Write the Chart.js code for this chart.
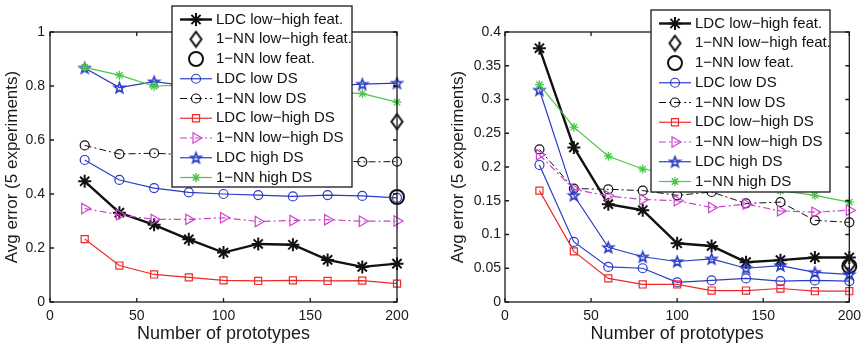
<!DOCTYPE html>
<html><head><meta charset="utf-8">
<script src="https://cdn.jsdelivr.net/npm/chart.js@4/dist/chart.umd.min.js"></script>
<style>
html,body{margin:0;padding:0;background:#fff;}
#wrap{position:relative;width:867px;height:346px;overflow:hidden;background:#fff;}
canvas{position:absolute;top:0;}
#c1{left:0}
#c2{left:430px}
</style></head><body>
<div id="wrap"><canvas id="c1" width="430" height="346"></canvas><canvas id="c2" width="437" height="346"></canvas></div>
<script>
// ---------- DATA ----------
const prototypes = [20, 40, 60, 80, 100, 120, 140, 160, 180, 200];
const seriesNames = ['LDC low−high feat.', '1−NN low−high feat.', '1−NN low feat.', 'LDC low DS', '1−NN low DS', 'LDC low−high DS', '1−NN low−high DS', 'LDC high DS', '1−NN high DS'];
const xTicks = [0, 50, 100, 150, 200];
const leftYTicks = [0, 0.2, 0.4, 0.6, 0.8, 1];
const rightYTicks = [0, 0.05, 0.1, 0.15, 0.2, 0.25, 0.3, 0.35, 0.4];

// left panel
const leftLdcLowHighFeat = [0.447, 0.331, 0.286, 0.232, 0.183, 0.215, 0.212, 0.156, 0.130, 0.142];
const leftNnLowHighFeat  = [null, null, null, null, null, null, null, null, null, 0.668];
const leftNnLowFeat      = [null, null, null, null, null, null, null, null, null, 0.389];
const leftLdcLowDS       = [0.526, 0.452, 0.422, 0.406, 0.400, 0.396, 0.391, 0.396, 0.393, 0.386];
const leftNnLowDS        = [0.580, 0.548, 0.551, 0.545, 0.540, 0.535, 0.530, 0.525, 0.519, 0.520];
const leftLdcLowHighDS   = [0.233, 0.135, 0.102, 0.091, 0.080, 0.078, 0.080, 0.078, 0.079, 0.068];
const leftNnLowHighDS    = [0.346, 0.323, 0.306, 0.306, 0.312, 0.298, 0.302, 0.305, 0.299, 0.300];
const leftLdcHighDS      = [0.867, 0.794, 0.816, 0.800, 0.800, 0.810, 0.800, 0.800, 0.807, 0.811];
const leftNnHighDS       = [0.869, 0.840, 0.799, 0.805, 0.800, 0.790, 0.790, 0.780, 0.772, 0.740];

// right panel
const rightLdcLowHighFeat = [0.376, 0.229, 0.145, 0.136, 0.087, 0.083, 0.059, 0.062, 0.066, 0.066];
const rightNnLowHighFeat  = [null, null, null, null, null, null, null, null, null, 0.055];
const rightNnLowFeat      = [null, null, null, null, null, null, null, null, null, 0.053];
const rightLdcLowDS       = [0.203, 0.089, 0.052, 0.050, 0.029, 0.032, 0.035, 0.031, 0.032, 0.031];
const rightNnLowDS        = [0.226, 0.168, 0.167, 0.165, 0.158, 0.163, 0.146, 0.148, 0.121, 0.118];
const rightLdcLowHighDS   = [0.165, 0.075, 0.035, 0.026, 0.026, 0.017, 0.017, 0.020, 0.016, 0.016];
const rightNnLowHighDS    = [0.218, 0.167, 0.157, 0.152, 0.150, 0.140, 0.145, 0.135, 0.133, 0.136];
const rightLdcHighDS      = [0.314, 0.158, 0.081, 0.067, 0.060, 0.064, 0.050, 0.054, 0.044, 0.041];
const rightNnHighDS       = [0.322, 0.259, 0.216, 0.197, 0.188, 0.180, 0.172, 0.165, 0.158, 0.148];

// ---------- STYLE ----------
const FONT = "'Liberation Sans', Arial, Helvetica, sans-serif";
const BLUE = '#2a3cc4', RED = '#ee2a2a', MAG = '#cc44cc', GREEN = '#48c848', BLK = '#111111';

function pentagram(r, color) {
  const s = Math.ceil(2 * r + 4);
  const c = document.createElement('canvas'); c.width = s; c.height = s;
  const g = c.getContext('2d');
  g.strokeStyle = color; g.lineWidth = 1.6; g.lineJoin = 'miter';
  g.beginPath();
  for (let i = 0; i < 10; i++) {
    const a = -Math.PI / 2 + i * Math.PI / 5;
    const rr = (i % 2) ? r * 0.42 : r;
    g.lineTo(s / 2 + rr * Math.cos(a), s / 2 + 0.5 + rr * Math.sin(a));
  }
  g.closePath(); g.stroke();
  return c;
}
function diamond(w, h, color, lw) {
  const cw = Math.ceil(w + lw + 2), ch = Math.ceil(h + lw + 2);
  const c = document.createElement('canvas'); c.width = cw; c.height = ch;
  const g = c.getContext('2d');
  g.strokeStyle = color; g.lineWidth = lw;
  g.beginPath();
  g.moveTo(cw / 2, ch / 2 - h / 2); g.lineTo(cw / 2 + w / 2, ch / 2);
  g.lineTo(cw / 2, ch / 2 + h / 2); g.lineTo(cw / 2 - w / 2, ch / 2); g.closePath();
  g.stroke();
  return c;
}
const starMarker = pentagram(5.5, BLUE);
const diamondMarker = diamond(11, 15, BLK, 2);

const styles = [
  { borderColor: BLK, borderWidth: 2.4, pointStyle: 'star', pointRadius: 6.5, pointBorderWidth: 2 },
  { showLine: false, borderColor: BLK, pointStyle: diamondMarker, pointRadius: 8, pointBorderWidth: 2 },
  { showLine: false, borderColor: BLK, pointStyle: 'circle', pointRadius: 7, pointBorderWidth: 2 },
  { borderColor: BLUE, borderWidth: 1.2, pointStyle: 'circle', pointRadius: 4.5, pointBorderWidth: 1.2 },
  { borderColor: BLK, borderWidth: 1, borderDash: [7, 3, 2, 3], pointStyle: 'circle', pointRadius: 4.5, pointBorderWidth: 1.2 },
  { borderColor: RED, borderWidth: 1.2, pointStyle: 'rect', pointRadius: 5, pointBorderWidth: 1.2 },
  { borderColor: MAG, borderWidth: 1.2, borderDash: [7, 3, 2, 3], pointStyle: 'triangle', pointRotation: 90, pointRadius: 6, pointBorderWidth: 1.2 },
  { borderColor: BLUE, borderWidth: 1.2, pointStyle: starMarker, pointRadius: 6, pointBorderWidth: 1.2 },
  { borderColor: GREEN, borderWidth: 1.2, pointStyle: 'star', pointRadius: 4.5, pointBorderWidth: 1.3 }
];

function makeDatasets(seriesList) {
  return seriesList.map((arr, i) => {
    const st = styles[i];
    return {
      label: seriesNames[i],
      data: prototypes.map((p, k) => ({ x: p, y: arr[k] })),
      showLine: st.showLine !== false,
      borderColor: st.borderColor,
      borderWidth: st.borderWidth || 1,
      borderDash: st.borderDash || [],
      pointStyle: st.pointStyle,
      pointRotation: st.pointRotation || 0,
      pointRadius: st.pointRadius,
      pointHoverRadius: st.pointRadius,
      pointBorderColor: st.borderColor,
      pointBackgroundColor: 'rgba(0,0,0,0)',
      pointBorderWidth: st.pointBorderWidth,
      tension: 0,
      spanGaps: false,
      clip: false,
      order: -i
    };
  });
}

const matlabPlugin = {
  id: 'matlab',
  afterDatasetsDraw(chart, args, opts) {
    const { ctx, chartArea: { left, right, top, bottom }, scales: { x, y } } = chart;
    ctx.save();
    ctx.setLineDash([]);
    ctx.strokeStyle = '#1a1a1a';
    ctx.lineWidth = 1.3;
    ctx.strokeRect(left, top, right - left, bottom - top);
    const tl = 4;
    ctx.beginPath();
    x.ticks.forEach(t => {
      const px = x.getPixelForValue(t.value);
      ctx.moveTo(px, bottom); ctx.lineTo(px, bottom - tl);
      ctx.moveTo(px, top); ctx.lineTo(px, top + tl);
    });
    y.ticks.forEach(t => {
      const py = y.getPixelForValue(t.value);
      ctx.moveTo(left, py); ctx.lineTo(left + tl, py);
      ctx.moveTo(right, py); ctx.lineTo(right - tl, py);
    });
    ctx.stroke();

    // legend
    const b = opts.box;
    ctx.fillStyle = '#fff';
    ctx.fillRect(b.x, b.y, b.w, b.h);
    ctx.strokeStyle = '#1a1a1a'; ctx.lineWidth = 1.3;
    ctx.strokeRect(b.x, b.y, b.w, b.h);
    chart.data.datasets.forEach((ds, i) => {
      const yy = b.y + 13.5 + i * 19.75;
      const x0 = b.x + 8, x1 = b.x + 40, cx = (x0 + x1) / 2;
      if (ds.showLine) {
        ctx.save();
        ctx.strokeStyle = ds.borderColor; ctx.lineWidth = ds.borderWidth;
        ctx.setLineDash(ds.borderDash || []);
        ctx.beginPath(); ctx.moveTo(x0, yy); ctx.lineTo(x1, yy); ctx.stroke();
        ctx.restore();
      }
      ctx.save();
      ctx.setLineDash([]);
      ctx.strokeStyle = ds.pointBorderColor; ctx.fillStyle = 'rgba(0,0,0,0)';
      ctx.lineWidth = ds.pointBorderWidth;
      Chart.helpers.drawPoint(ctx, { pointStyle: ds.pointStyle, rotation: ds.pointRotation, radius: ds.pointRadius, borderWidth: ds.pointBorderWidth }, cx, yy);
      ctx.restore();
      ctx.fillStyle = '#111';
      ctx.font = '15px ' + FONT;
      ctx.textBaseline = 'middle'; ctx.textAlign = 'left';
      ctx.fillText(ds.label, b.x + 44, yy);
    });
    ctx.restore();
  }
};

Chart.defaults.font.family = FONT;
Chart.defaults.color = '#1a1a1a';

function fmt(v) { return String(Math.round(v * 100) / 100); }

function makeChart(id, seriesList, yMax, yStep, yTickVals, pad, yWidth, yTitlePad, yTickPad, legendBox) {
  return new Chart(document.getElementById(id), {
    type: 'line',
    data: { datasets: makeDatasets(seriesList) },
    options: {
      responsive: false, animation: false, devicePixelRatio: 1,
      layout: { padding: pad },
      plugins: { legend: { display: false }, tooltip: { enabled: false }, matlab: { box: legendBox } },
      scales: {
        x: {
          type: 'linear', min: xTicks[0], max: xTicks[xTicks.length - 1],
          grid: { display: false, drawTicks: false }, border: { display: false },
          ticks: { stepSize: xTicks[1] - xTicks[0], padding: 6, maxRotation: 0, autoSkip: false, font: { size: 14 }, color: '#1a1a1a' },
          title: { display: true, text: 'Number of prototypes', font: { size: 18 }, padding: { top: 0, bottom: 1 }, color: '#1a1a1a' },
          afterFit(s) { s.height = 44; }
        },
        y: {
          type: 'linear', min: yTickVals[0], max: yMax,
          grid: { display: false, drawTicks: false }, border: { display: false },
          ticks: { stepSize: yStep, padding: yTickPad, autoSkip: false, font: { size: 14 }, color: '#1a1a1a', callback: fmt },
          title: { display: true, text: 'Avg error (5 experiments)', font: { size: 17 }, padding: { top: yTitlePad, bottom: 0 }, color: '#1a1a1a' },
          afterFit(s) { s.width = yWidth; }
        }
      }
    },
    plugins: [matlabPlugin]
  });
}

makeChart('c1',
  [leftLdcLowHighFeat, leftNnLowHighFeat, leftNnLowFeat, leftLdcLowDS, leftNnLowDS, leftLdcLowHighDS, leftNnLowHighDS, leftLdcHighDS, leftNnHighDS],
  1, 0.2, leftYTicks, { left: 0, top: 32, right: 33, bottom: 0 }, 50, 2, 5,
  { x: 172, y: 6, w: 180, h: 181 });

makeChart('c2',
  [rightLdcLowHighFeat, rightNnLowHighFeat, rightNnLowFeat, rightLdcLowDS, rightNnLowDS, rightLdcLowHighDS, rightNnLowHighDS, rightLdcHighDS, rightNnHighDS],
  0.4, 0.05, rightYTicks, { left: 0, top: 32, right: 14, bottom: 0 }, 75, 18, 4,
  { x: 221, y: 10, w: 179, h: 182 });
</script>
</body></html>
